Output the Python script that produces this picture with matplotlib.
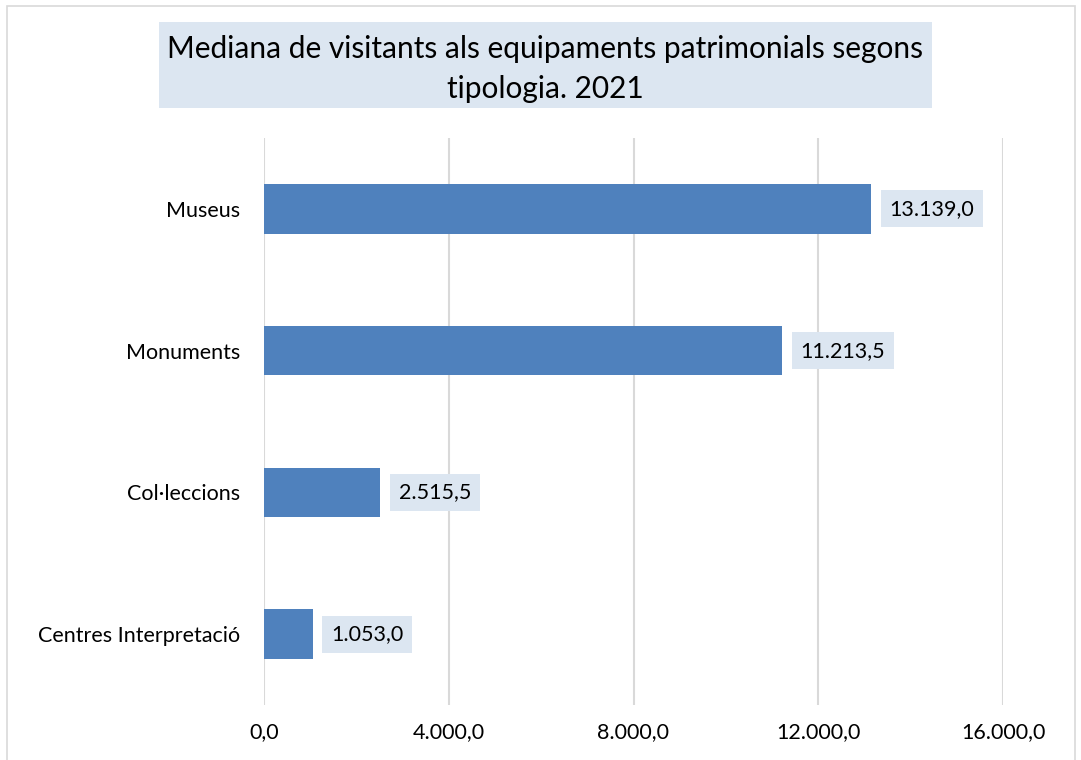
import matplotlib.pyplot as plt
from matplotlib.patches import Rectangle

categories = ['Centres Interpretació', 'Col·leccions', 'Monuments', 'Museus']
values = [1053.0, 2515.5, 11213.5, 13139.0]
xticks = [0, 4000, 8000, 12000, 16000]


def fmt(v):
    s = '{:,.1f}'.format(v)
    return s.replace(',', 'X').replace('.', ',').replace('X', '.')


plt.rcParams['font.family'] = ['Lato', 'DejaVu Sans']

fig = plt.figure(figsize=(10.81, 7.6), dpi=100)
ax = fig.add_axes([264 / 1081, 1 - 705 / 760, 739 / 1081, 567 / 760])

# outer chart border
fig.patches.append(Rectangle((7 / 1081, -0.01), 1068 / 1081, 1 - 6 / 760 + 0.01,
                             transform=fig.transFigure, fill=False,
                             edgecolor='#d9d9d9', linewidth=1.2))

bars = ax.barh(range(len(categories)), values, height=0.35, color='#4f81bd')
for b, v in zip(bars, values):
    ax.text(b.get_width() + 400, b.get_y() + b.get_height() / 2, fmt(v),
            va='center', ha='left', fontsize=15.5, color='black',
            bbox=dict(boxstyle='square,pad=0.4', facecolor='#dce6f1', edgecolor='none'))

ax.set_xlim(0, 16000)
ax.set_ylim(-0.5, 3.5)
ax.set_yticks(range(len(categories)))
ax.set_yticklabels(categories, fontsize=15.5)
ax.set_xticks(xticks)
ax.set_xticklabels([fmt(t) for t in xticks], fontsize=15.5)
ax.tick_params(length=0)
ax.tick_params(axis='x', pad=12)
ax.tick_params(axis='y', pad=17)
ax.grid(axis='x', color='#d9d9d9', linewidth=1.5)
ax.set_axisbelow(True)
for s in ax.spines.values():
    s.set_visible(False)

fig.patches.append(Rectangle((159 / 1081, 1 - 108 / 760), 773 / 1081, 86 / 760,
                             transform=fig.transFigure, facecolor='#dce6f1',
                             edgecolor='none'))
fig.text(545 / 1081, 1 - 69 / 760,
         'Mediana de visitants als equipaments patrimonials segons\ntipologia. 2021',
         ha='center', va='center', fontsize=21.5, linespacing=1.55)

fig.savefig('out.png', dpi=100)
